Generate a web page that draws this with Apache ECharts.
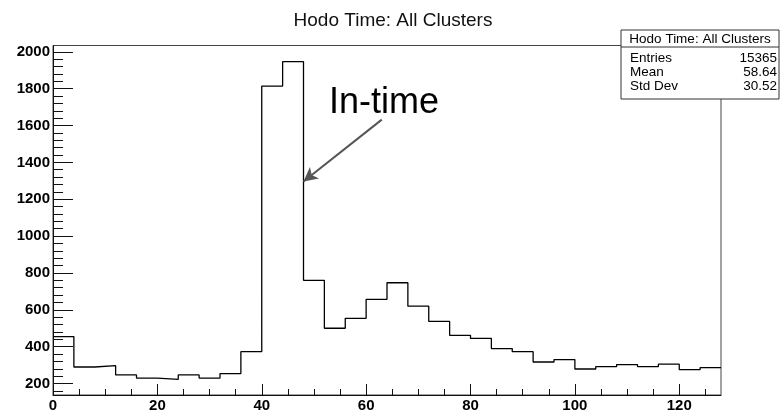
<!DOCTYPE html>
<html>
<head>
<meta charset="utf-8">
<script src="https://cdn.jsdelivr.net/npm/echarts@6/dist/echarts.min.js"></script>
<style>
  html, body { margin: 0; padding: 0; background: #fff; }
  #chart { width: 783px; height: 413px; }
</style>
</head>
<body>
<div id="chart"></div>
<script>
// Histogram: hodoscope cluster time, 4-unit bins from 0 to 128
const binWidth = 4;
const binLow = [0, 4, 8, 12, 16, 20, 24, 28, 32, 36, 40, 44, 48, 52, 56, 60,
                64, 68, 72, 76, 80, 84, 88, 92, 96, 100, 104, 108, 112, 116, 120, 124];
const counts = [455, 290, 297, 247, 230, 223, 247, 230, 254, 373, 1814, 1946, 760, 500, 554, 657,
                747, 620, 537, 462, 445, 390, 373, 317, 330, 279, 292, 303, 292, 305, 276, 287];

// Axis ticks
const xMajorTicks = [0, 20, 40, 60, 80, 100, 120];
const xMinorTicks = [5, 10, 15, 25, 30, 35, 45, 50, 55, 65, 70, 75, 85, 90, 95, 105, 110, 115, 125];
const yMajorTicks = [200, 400, 600, 800, 1000, 1200, 1400, 1600, 1800, 2000];
const yMinorTicks = [160, 240, 280, 320, 360, 440, 480, 520, 560, 640, 680, 720, 760,
                     840, 880, 920, 960, 1040, 1080, 1120, 1160, 1240, 1280, 1320, 1360,
                     1440, 1480, 1520, 1560, 1640, 1680, 1720, 1760, 1840, 1880, 1920, 1960];

// Statistics box
const histTitle = 'Hodo Time: All Clusters';
const statNames = ['Entries', 'Mean', 'Std Dev'];
const statValues = ['15365', '58.64', '30.52'];

// "In-time" annotation arrow (data coordinates: tail, head)
const arrowTail = [63, 1632];
const arrowHead = [48, 1296];

const xMin = 0, xMax = 128;
const yMin = 138, yMax = 2034;

// step outline: one point per bin low edge, plus the upper edge of the last bin
const stepPoints = binLow.map((x, i) => [x, counts[i]]);
stepPoints.push([binLow[binLow.length - 1] + binWidth, counts[counts.length - 1]]);

const font = '"Liberation Sans", Arial, Helvetica, sans-serif';
const chart = echarts.init(document.getElementById('chart'), null, { renderer: 'canvas' });

const gridLeft = 53, gridRight = 62, gridTop = 45.5, gridBottom = 17;

const boxL = 621, boxR = 779, boxT = 30, boxB = 99;
const plain = v => String(v);

chart.setOption({
  animation: false,
  backgroundColor: '#fff',
  title: {
    text: histTitle,
    left: 388,
    top: 6,
    textAlign: 'center',
    textStyle: { fontFamily: font, fontSize: 19, fontWeight: 'normal', color: '#111' }
  },
  grid: {
    left: gridLeft, right: gridRight, top: gridTop, bottom: gridBottom,
    show: true, borderColor: '#444', borderWidth: 1, backgroundColor: 'transparent'
  },
  xAxis: [
    {
      type: 'value', min: xMin, max: xMax, position: 'bottom',
      axisLine: { show: true, lineStyle: { color: '#111', width: 1 } },
      axisTick: { show: true, inside: true, length: 11, customValues: xMajorTicks, lineStyle: { color: '#111' } },
      axisLabel: { customValues: xMajorTicks, formatter: plain, margin: 3, fontFamily: font, fontSize: 15, fontWeight: 'bold', color: '#000' },
      splitLine: { show: false }
    },
    {
      type: 'value', min: xMin, max: xMax, position: 'bottom',
      axisLine: { show: false },
      axisTick: { show: true, inside: true, length: 6, customValues: xMinorTicks, lineStyle: { color: '#111' } },
      axisLabel: { show: false },
      splitLine: { show: false }
    }
  ],
  yAxis: [
    {
      type: 'value', min: yMin, max: yMax, position: 'left',
      axisLine: { show: true, lineStyle: { color: '#111', width: 1 } },
      axisTick: { show: true, inside: true, length: 20, customValues: yMajorTicks, lineStyle: { color: '#111' } },
      axisLabel: { customValues: yMajorTicks, formatter: plain, margin: 3, fontFamily: font, fontSize: 15, fontWeight: 'bold', color: '#000' },
      splitLine: { show: false }
    },
    {
      type: 'value', min: yMin, max: yMax, position: 'left',
      axisLine: { show: false },
      axisTick: { show: true, inside: true, length: 10, customValues: yMinorTicks, lineStyle: { color: '#111' } },
      axisLabel: { show: false },
      splitLine: { show: false }
    }
  ],
  series: [
    {
      type: 'line',
      step: 'end',
      xAxisIndex: 0,
      yAxisIndex: 0,
      data: stepPoints,
      showSymbol: false,
      symbol: 'none',
      lineStyle: { color: '#000', width: 1.3 },
      markLine: {
        silent: true,
        symbol: ['none', 'arrow'],
        symbolSize: [11, 14],
        label: { show: false },
        lineStyle: { color: '#555', width: 2, type: 'solid' },
        data: [[{ coord: arrowTail }, { coord: arrowHead }]]
      }
    }
  ],
  graphic: [
    {
      type: 'text', left: 329, top: 85, z: 10,
      style: { text: 'In-time', fontFamily: font, fontSize: 36, fill: '#000' }
    },
    {
      type: 'group', z: 20,
      children: [
        { type: 'rect', shape: { x: boxL, y: boxT, width: boxR - boxL, height: boxB - boxT },
          style: { fill: '#fff', stroke: '#333', lineWidth: 1 } },
        { type: 'line', shape: { x1: boxL, y1: 47, x2: boxR, y2: 47 },
          style: { stroke: '#333', lineWidth: 1 } },
        { type: 'text', x: (boxL + boxR) / 2, y: 39,
          style: { text: histTitle, fontFamily: font, fontSize: 13.5, fill: '#000', align: 'center', verticalAlign: 'middle' } }
      ].concat(statNames.map((name, i) => ({
        type: 'text', x: 630, y: 58 + i * 14,
        style: { text: name, fontFamily: font, fontSize: 13.5, fill: '#000', align: 'left', verticalAlign: 'middle' }
      }))).concat(statValues.map((val, i) => ({
        type: 'text', x: 777, y: 58 + i * 14,
        style: { text: val, fontFamily: font, fontSize: 13.5, fill: '#000', align: 'right', verticalAlign: 'middle' }
      })))
    }
  ]
});
</script>
</body>
</html>
